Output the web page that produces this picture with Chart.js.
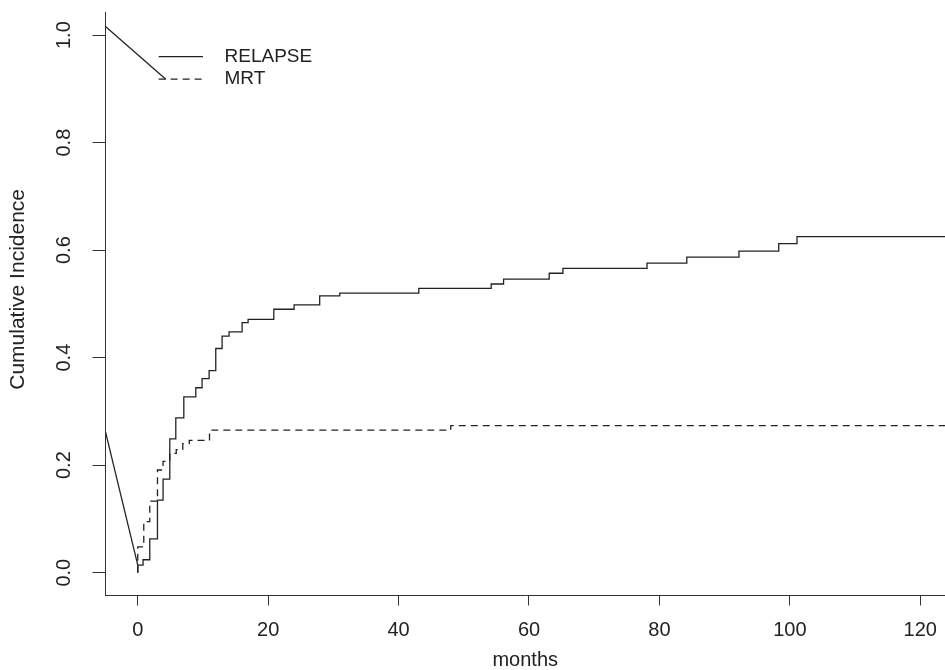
<!DOCTYPE html>
<html>
<head>
<meta charset="utf-8">
<title>Cumulative Incidence</title>
<script src="https://cdn.jsdelivr.net/npm/chart.js@4.4.1/dist/chart.umd.min.js"></script>
<style>
    html, body { margin: 0; padding: 0; background: #fff; }
    #wrap { width: 945px; height: 670px; }
</style>
</head>
<body>
<div id="wrap"><canvas id="grafica" width="945" height="670"></canvas></div>
<script>
// tiempos (meses) y incidencia acumulada
const relapseTime = [0, 0, 0.81, 1.84, 3.02, 3.88, 4.91, 5.83, 7.06, 8.9, 9.86, 10.94, 11.96, 12.93, 14.0, 16.0, 16.92, 20.86, 23.97, 27.9, 30.98, 43.1, 54.2, 56.1, 63.1, 65.2, 78.1, 84.2, 92.2, 98.3, 101.1, 124];
const relapseCI = [0, 0.014, 0.024, 0.063, 0.135, 0.174, 0.249, 0.288, 0.327, 0.344, 0.361, 0.376, 0.417, 0.44, 0.448, 0.465, 0.471, 0.49, 0.498, 0.515, 0.52, 0.529, 0.537, 0.546, 0.557, 0.566, 0.576, 0.587, 0.598, 0.612, 0.625, 0.625];
const mrtTime = [0, 0, 0.92, 1.84, 3.02, 3.88, 4.91, 5.9, 6.9, 7.9, 11.0, 48.0, 124];
const mrtCI = [0, 0.048, 0.095, 0.133, 0.191, 0.207, 0.222, 0.229, 0.24, 0.246, 0.265, 0.2735, 0.2735];

// tramos rectos que salen del eje izquierdo
const leadTime = [-4.95, 0];
const leadCI = [0.262, 0.014];
const legendLeadTime = [-4.95, 4.3];
const legendLeadCI = [1.016, 0.918];

const seriesNames = ['RELAPSE', 'MRT'];
const xTicks = [0, 20, 40, 60, 80, 100, 120];
const yTicks = [0, 0.2, 0.4, 0.6, 0.8, 1.0];
const yTitle = 'Cumulative Incidence';

// posicion de la leyenda en unidades del grafico
const legendLineX = [3.2, 10.0];
const legendRowY = [0.96, 0.918];
const legendTextX = 13.3;
const legendDash = [[], [7, 5]];
// centro del titulo del eje y (en valor de y)
const yTitleAt = 0.527;

const INK = '#222';
const AXIS = '#333';
const FONT = 'Liberation Sans, Arial, Helvetica, sans-serif';

const toPoints = (xs, ys) => xs.map((x, i) => ({ x: x, y: ys[i] }));

const legendPlugin = {
    id: 'leyendaR',
    afterDatasetsDraw(chart) {
        const { ctx, scales: { x, y } } = chart;
        ctx.save();
        ctx.strokeStyle = INK;
        ctx.fillStyle = INK;
        ctx.lineWidth = 1.3;
        ctx.font = '19px ' + FONT;
        ctx.textBaseline = 'middle';
        ctx.textAlign = 'left';
        seriesNames.forEach((name, i) => {
            const py = y.getPixelForValue(legendRowY[i]);
            ctx.setLineDash(legendDash[i]);
            ctx.beginPath();
            ctx.moveTo(x.getPixelForValue(legendLineX[0]), py);
            ctx.lineTo(x.getPixelForValue(legendLineX[1]), py);
            ctx.stroke();
            ctx.setLineDash([]);
            ctx.fillText(name, x.getPixelForValue(legendTextX), py);
        });

        // titulo del eje y, girado como en R
        ctx.font = '21px ' + FONT;
        ctx.textAlign = 'center';
        ctx.translate(18, y.getPixelForValue(yTitleAt));
        ctx.rotate(-Math.PI / 2);
        ctx.fillText(yTitle, 0, 0);
        ctx.restore();
    }
};

document.addEventListener('DOMContentLoaded', () => {
    const ctx = document.getElementById('grafica').getContext('2d');
    const lineBase = { showLine: true, pointRadius: 0, borderColor: INK, borderWidth: 1.3, fill: false };

    new Chart(ctx, {
        type: 'scatter',
        data: {
            datasets: [
                { ...lineBase, label: seriesNames[0], data: toPoints(relapseTime, relapseCI), stepped: 'before' },
                { ...lineBase, label: seriesNames[1], data: toPoints(mrtTime, mrtCI), stepped: 'before', borderDash: [7, 5] },
                { ...lineBase, label: 'lead', data: toPoints(leadTime, leadCI) },
                { ...lineBase, label: 'legend lead', data: toPoints(legendLeadTime, legendLeadCI) }
            ]
        },
        options: {
            responsive: false,
            animation: false,
            devicePixelRatio: 1,
            layout: { padding: { top: 12, left: 0, right: 0, bottom: 0 } },
            plugins: { legend: { display: false }, tooltip: { enabled: false } },
            scales: {
                x: {
                    type: 'linear',
                    min: -4.95,
                    max: 123.8,
                    afterBuildTicks: axis => { axis.ticks = xTicks.map(v => ({ value: v })); },
                    afterFit: axis => {
                        axis.height = 74.5;
                        axis.paddingLeft = 0;
                        axis.paddingRight = 0;
                    },
                    grid: { drawOnChartArea: false, drawTicks: true, tickLength: 10, tickColor: AXIS, tickWidth: 1 },
                    border: { display: true, color: AXIS, width: 1 },
                    ticks: {
                        font: { family: FONT, size: 20 },
                        color: INK,
                        padding: 13,
                        maxRotation: 0,
                        callback: v => String(v)
                    },
                    title: {
                        display: true,
                        text: 'months',
                        font: { family: FONT, size: 20, lineHeight: 1 },
                        color: INK,
                        padding: 0
                    }
                },
                y: {
                    type: 'linear',
                    min: -0.0425,
                    max: 1.043,
                    afterBuildTicks: axis => { axis.ticks = yTicks.map(v => ({ value: v })); },
                    afterFit: axis => {
                        axis.width = 105.5;
                        axis.paddingTop = 0;
                        axis.paddingBottom = 0;
                    },
                    grid: { drawOnChartArea: false, drawTicks: true, tickLength: 13, tickColor: AXIS, tickWidth: 1 },
                    border: { display: true, color: AXIS, width: 1 },
                    ticks: {
                        font: { family: FONT, size: 20 },
                        color: INK,
                        padding: 14.5,
                        minRotation: 90,
                        maxRotation: 90,
                        crossAlign: 'center',
                        callback: v => v.toFixed(1)
                    },
                    title: { display: false }
                }
            }
        },
        plugins: [legendPlugin]
    });
});
</script>
</body>
</html>
